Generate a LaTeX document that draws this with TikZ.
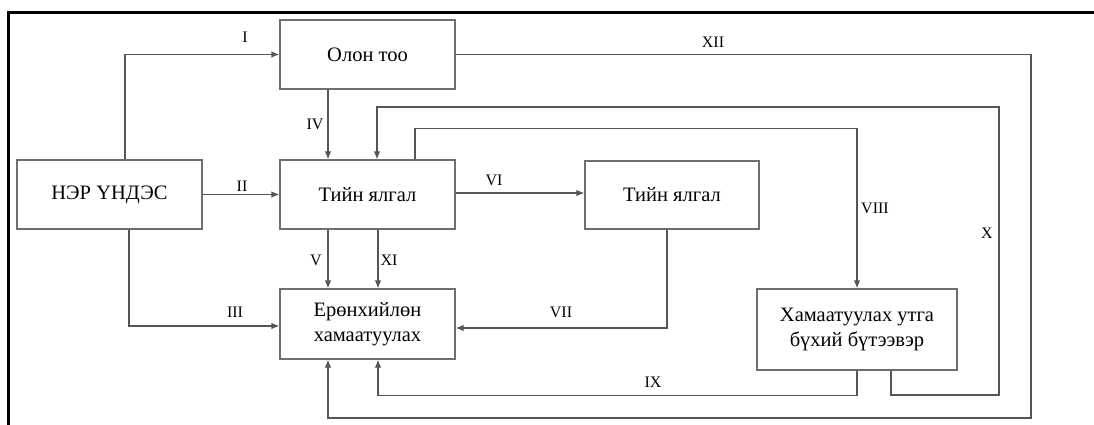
\documentclass[tikz,border=0pt]{standalone}
\usepackage{fontspec}
\setmainfont{Liberation Serif}
\usetikzlibrary{arrows.meta,positioning}
\definecolor{linegray}{RGB}{85,85,85}
\definecolor{boxgray}{RGB}{110,110,110}
\tikzset{
  block/.style={
    shape = rectangle,
    draw = boxgray,
    line width = 1.2pt,
    minimum width = 175pt,
    minimum height = 69pt,
    align = center,
    font = \fontsize{20.5}{25}\selectfont
  },
  link/.style={
    draw = linegray,
    line width = 1.2pt,
    -{Latex[length=8pt,width=6.5pt]}
  },
  lbl/.style={
    font = \fontsize{16}{19}\selectfont,
    inner sep = 1pt
  }
}

\begin{document}
\begin{tikzpicture}[x=1pt,y=-1pt]
    \useasboundingbox (0,0) rectangle (1094,425);
    \fill[white] (0,0) rectangle (1094,425);

    % frame
    \draw[line width=3pt,black] (1100,13) -| (8,430);

    % blocks
    \node[block] (olon) at (367.5,54.5) {Олон тоо};
    \node[block, minimum width=185pt] (ner) at (109.5,194.5) {НЭР ҮНДЭС};
    \node[block] (tiin) at (367.5,194.5) {Тийн ялгал};
    \node[block, minimum width=174pt, minimum height=68pt] (tiinb) at (672,195) {Тийн ялгал};
    \node[block, minimum height=70pt] (erenh) at (367.5,324) {Ерөнхийлөн\\хамаатуулах};
    \node[block, minimum width=200pt, minimum height=81pt] (hamaat) at (857,329.5) {Хамаатуулах утга\\бүхий бүтээвэр};

    % turning points
    \coordinate (xbot) at (999,395);
    \coordinate (xtop) at (999,107);
    \coordinate (xiibot) at (1031,418);

    % connectors
    \draw[link] ([xshift=15.5pt]ner.north) |- (olon.west);
    \draw[link] (ner.east) -- (ner.east -| tiin.west);
    \draw[link] ([xshift=19.5pt]ner.south) |- ([yshift=-2pt]erenh.west);
    \draw[link] ([xshift=-39.5pt]olon.south) -- ([xshift=-39.5pt]tiin.north);
    \draw[link] ([xshift=-39.5pt]tiin.south) -- ([xshift=-39.5pt]erenh.north);
    \draw[link] ([xshift=10.5pt]tiin.south) -- ([xshift=10.5pt]erenh.north);
    \draw[link] ([yshift=1.5pt]tiin.east) -- ([yshift=1.5pt]tiin.east -| tiinb.west);
    \draw[link] ([xshift=-5pt]tiinb.south) |- ([yshift=-4pt]erenh.east);
    \draw[link] ([xshift=47.5pt]tiin.north) -- ++(0,-31) -| (hamaat.north);
    \draw[link] (hamaat.south) -- ++(0,25) -| ([xshift=10.5pt]erenh.south);
    \draw[link] ([xshift=34pt]hamaat.south) |- (xbot) -- (xtop) -| ([xshift=9.5pt]tiin.north);
    \draw[link] (olon.east) -| (xiibot) -| ([xshift=-39.5pt]erenh.south);

    % labels
    \node[lbl] (l1) at (245,37) {I};
    \node[lbl] (l2) at (242,186) {II};
    \node[lbl] (l3) at (235,312) {III};
    \node[lbl] (l4) at (315,124) {IV};
    \node[lbl] (l5) at (316,260) {V};
    \node[lbl] (l6) at (494,180) {VI};
    \node[lbl] (l7) at (561,312) {VII};
    \node[lbl] (l8) at (875,208) {VIII};
    \node[lbl] (l9) at (653,382) {IX};
    \node[lbl] (l10) at (987,233) {X};
    \node[lbl] (l11) at (389,260) {XI};
    \node[lbl] (l12) at (713,42) {XII};
\end{tikzpicture}
\end{document}
